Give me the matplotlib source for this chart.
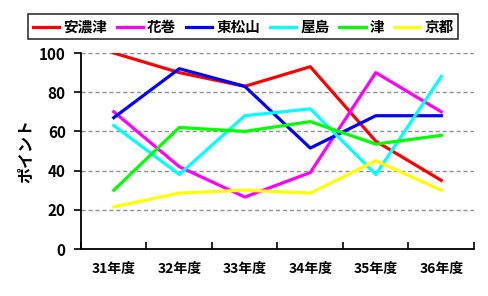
import matplotlib
matplotlib.use('Agg')
import matplotlib.pyplot as plt

plt.rcParams['font.family'] = ['Noto Sans CJK JP', 'DejaVu Sans']

# ===================== Data =====================
years = ['31年度', '32年度', '33年度', '34年度', '35年度', '36年度']
names = ['安濃津', '花巻', '東松山', '屋島', '津', '京都']
colors = ['#ff0000', '#ff00ff', '#0000ff', '#00ffff', '#00ff00', '#ffff00']

anotsu = [100, 90, 83, 93, 55, 35]
hanamaki = [70, 42, 26.5, 39, 90, 70]
higashimatsuyama = [67, 92, 83, 51.5, 68, 68]
yashima = [63, 38, 68, 71.5, 38, 88]
tsu = [30, 62, 60, 65, 53.5, 58]
kyoto = [21.5, 28.5, 30, 28.5, 45, 30]
series = [anotsu, hanamaki, higashimatsuyama, yashima, tsu, kyoto]

# ===================== Plot =====================
fig = plt.figure(figsize=(4.89, 2.96), dpi=100)
ax = fig.add_axes([81 / 489, 47 / 296, 393 / 489, 196 / 296])

x = range(len(years))
for vals, name, c in zip(series, names, colors):
    ax.plot(x, vals, color=c, lw=2.3, label=name)

ax.set_xlim(-0.5, len(years) - 0.5)
ax.set_ylim(0, 100)
ax.set_yticks(range(0, 101, 20))
ax.set_xticks([i + 0.5 for i in range(-1, len(years))], minor=False)
ax.set_xticklabels([])
ax.set_xticks(list(x), minor=True)
ax.set_xticklabels(years, minor=True, fontsize=10, fontweight='bold')
ax.tick_params(axis='x', which='minor', length=0, pad=9)
ax.tick_params(axis='x', which='major', direction='in', length=5, width=1.2)
ax.tick_params(axis='y', direction='out', length=5, width=1.2, labelsize=11, pad=6)
for lab in ax.get_yticklabels():
    lab.set_fontweight('bold')

ax.grid(axis='y', color='#909090', linestyle=(0, (3, 2)), lw=1)
for s in ['top', 'right']:
    ax.spines[s].set_visible(False)
for s in ['left', 'bottom']:
    ax.spines[s].set_linewidth(1.3)

ax.set_ylabel('ポイント', fontsize=11.5, fontweight='bold', labelpad=4)

leg = fig.legend(loc='upper left', bbox_to_anchor=(21 / 489, 1 - 7 / 296), ncol=6,
                 frameon=True, fancybox=False, handlelength=1.8,
                 handletextpad=0.3, columnspacing=0.65, borderpad=0.3,
                 prop={'weight': 'bold', 'size': 10.5})
leg.get_frame().set_edgecolor('black')
leg.get_frame().set_linewidth(1.2)

plt.savefig('out.png', dpi=100)
